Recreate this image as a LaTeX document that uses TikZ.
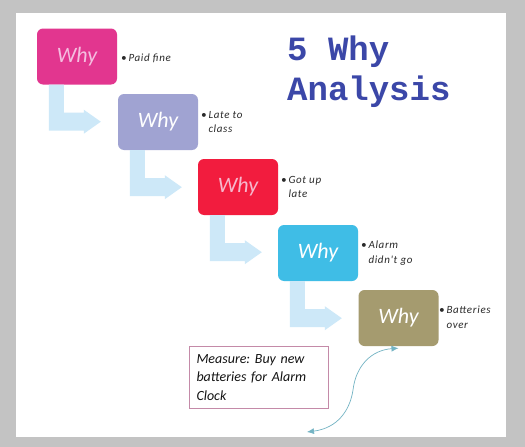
\documentclass[tikz,border=0pt]{standalone}
\usepackage{fontspec}
\setmainfont{Carlito}
\newfontfamily\titlefont{Liberation Mono}
\newfontfamily\labelfont[LetterSpace=6]{Carlito}
\usetikzlibrary{calc,arrows.meta}
\frenchspacing
\definecolor{bggray}{HTML}{C3C3C3}
\definecolor{cpink}{HTML}{E2368F}
\definecolor{cpurple}{HTML}{A0A3D2}
\definecolor{cred}{HTML}{F21C3E}
\definecolor{ccyan}{HTML}{3FBDE6}
\definecolor{colive}{HTML}{A59B6F}
\definecolor{arrowblue}{HTML}{CDE8F8}
\definecolor{titleblue}{HTML}{3B47A8}
\definecolor{measureborder}{HTML}{C48AA8}
\definecolor{curveteal}{HTML}{74B4C4}
\definecolor{labelgray}{HTML}{2A2A2A}
\newcommand\larrow[1]{\fill[arrowblue] ($(#1.south west)+(12,0)$) -- ++(15,0) -- ++(0,28) -- ++(20,0) -- ++(0,-3) -- ++(17,12) -- ++(-17,12) -- ++(0,-3) -- ++(-35,0) -- cycle;}
\tikzset{
  whybox/.style={rounded corners=6pt, minimum width=80pt, minimum height=56pt, inner sep=0pt, font=\fontsize{22}{24}\selectfont\itshape},
  whylabel/.style={anchor=north west, align=left, inner sep=0pt, text=labelgray, font=\labelfont\fontsize{11}{14.5}\selectfont\itshape},
  measurebox/.style={draw=measureborder, line width=1pt, anchor=north west, minimum width=139pt, minimum height=62pt, text width=125pt, inner xsep=7pt, align=left, text={rgb,255:red,20;green,20;blue,20}, font=\fontsize{14}{18.5}\selectfont\itshape},
  curvearrow/.style={draw=curveteal, line width=0.7pt, {Latex[length=7pt,width=6pt]}-{Latex[length=7pt,width=6pt]}},
}
\begin{document}
\begin{tikzpicture}[x=1pt,y=-1pt]
\useasboundingbox (0,0) rectangle (525,447);
\fill[bggray] (0,0) rectangle (525,447);
\fill[white] (16,13) rectangle (506,437);
% boxes
\node[whybox, fill=cpink, text={rgb,255:red,244;green,190;blue,224}] (w1) at (77,56.5) {Why};
\node[whybox, fill=cpurple, text=white] (w2) at (158,122) {Why};
\node[whybox, fill=cred, text={rgb,255:red,246;green,184;blue,204}] (w3) at (238,187) {Why};
\node[whybox, fill=ccyan, text=white] (w4) at (318,253) {Why};
\node[whybox, fill=colive, text=white] (w5) at (398.5,318) {Why};
% L arrows
\larrow{w1}
\larrow{w2}
\larrow{w3}
\larrow{w4}
% labels
\node[whylabel] (l1) at (121,54) {\textbullet\,Paid fine};
\node[whylabel] (l2) at (201,111) {\textbullet\,Late to\\\phantom{\textbullet\,}class};
\node[whylabel] (l3) at (281,176) {\textbullet\,Got up\\\phantom{\textbullet\,}late};
\node[whylabel] (l4) at (361,241) {\textbullet\,Alarm\\\phantom{\textbullet\,}didn't go};
\node[whylabel] (l5) at (439,306) {\textbullet\,Batteries\\\phantom{\textbullet\,}over};
% title
\node[anchor=north west, inner sep=0pt, align=left, text=titleblue, font=\titlefont\bfseries\fontsize{34}{40}\selectfont] (title) at (287,36) {5 Why\\Analysis};
% measure
\node[measurebox] (m) at (189,346) {Measure: Buy new\\batteries for Alarm\\Clock};
% curve
\coordinate (cstart) at (307,432);
\draw[curvearrow] (cstart) .. controls (338,428) and (350,410) .. (353,390) .. controls (356,365) and (372,350) .. ($(w5.south)+(0,2)$);
\end{tikzpicture}
\end{document}
